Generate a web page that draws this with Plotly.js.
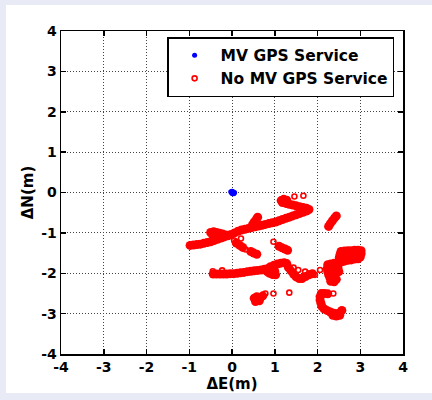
<!DOCTYPE html>
<html>
<head>
<meta charset="utf-8">
<script src="https://cdn.plot.ly/plotly-3.0.1.min.js"></script>
<style>
html,body{margin:0;padding:0;background:#e8eaf5;width:432px;height:400px;overflow:hidden}
#panel{position:absolute;left:6px;top:5px;width:426px;height:388px;background:#fff}
#chart{position:absolute;left:0;top:0;width:432px;height:400px}
</style>
</head>
<body>
<div id="panel"></div>
<div id="chart"></div>
<script>
// MV GPS Service fixes (metres)
const blueE = [-0.03, 0.00, 0.03, 0.06, -0.01, 0.02, 0.05, 0.01, 0.04];
const blueN = [0.02, 0.03, 0.02, 0.00, -0.01, 0.00, -0.02, -0.03, -0.03];

// No MV GPS Service: dense trail fixes (metres)
const trailE = [
 -0.98,-0.90,-0.82,-0.74,-0.66,-0.58,-0.50,-0.42,-0.34,-0.26,-0.18,-0.10,-0.02,0.06,0.14,0.22,0.30,0.38,0.46,0.54,0.62,0.70,0.78,0.86,0.94,1.02,1.10,1.18,1.26,1.34,1.42,1.50,1.58,1.66,1.74,1.80,
 1.74,1.66,1.58,1.50,1.42,1.34,1.26,1.18,1.15,1.21,1.28,
 -0.50,-0.43,-0.36,-0.29,-0.22,-0.15,-0.08,-0.45,
 0.10,0.18,0.25,0.44,0.51,0.58,
 0.48,0.52,0.57,0.60,
 2.26,2.30,2.35,2.40,2.44,
 1.10,1.17,1.24,1.30,
 -0.44,-0.36,-0.28,-0.20,-0.12,-0.04,0.04,0.12,0.20,0.28,0.36,0.44,0.52,0.60,0.68,0.76,0.84,
 0.90,0.98,1.06,1.14,1.22,1.28,0.82,0.88,0.95,1.02,1.00,
 1.32,1.38,1.44,1.50,1.57,1.64,1.72,1.80,1.88,
 2.55,2.63,2.71,2.79,2.87,2.95,3.02,2.62,2.72,2.82,2.92,3.02,3.00,
 2.95,2.87,2.79,2.71,2.63,2.55,2.47,2.39,2.31,2.24,2.53,2.51,
 2.32,2.40,2.48,2.34,2.42,2.50,2.23,2.24,2.26,2.29,2.37,2.44,2.31,2.39,
 2.09,2.16,2.24,2.06,2.06,2.08,2.10,2.15,2.22,2.30,2.38,2.46,2.53,2.57,2.36,2.44,2.52,
 0.56,0.61,0.67,0.72,0.52,0.58,0.64,0.55
];
const trailN = [
 -1.31,-1.30,-1.29,-1.28,-1.26,-1.24,-1.22,-1.19,-1.16,-1.13,-1.10,-1.07,-1.04,-1.00,-0.96,-0.93,-0.91,-0.89,-0.87,-0.85,-0.83,-0.81,-0.79,-0.77,-0.75,-0.73,-0.70,-0.67,-0.64,-0.61,-0.58,-0.55,-0.52,-0.49,-0.46,-0.42,
 -0.39,-0.37,-0.35,-0.33,-0.31,-0.29,-0.27,-0.25,-0.20,-0.17,-0.19,
 -0.99,-0.97,-0.99,-1.01,-1.03,-1.05,-1.06,-1.05,
 -1.25,-1.31,-1.36,-1.46,-1.50,-1.53,
 -0.80,-0.73,-0.66,-0.61,
 -0.84,-0.77,-0.70,-0.63,-0.58,
 -1.33,-1.37,-1.40,-1.43,
 -2.02,-2.02,-2.02,-2.02,-2.02,-2.01,-2.01,-2.00,-1.99,-1.98,-1.96,-1.95,-1.94,-1.93,-1.92,-1.90,-1.88,
 -1.84,-1.80,-1.77,-1.75,-1.74,-1.76,-1.96,-2.00,-2.03,-2.04,-1.95,
 -1.86,-1.94,-2.02,-2.09,-2.13,-2.13,-2.08,-2.04,-2.01,
 -1.46,-1.45,-1.44,-1.44,-1.43,-1.43,-1.44,-1.52,-1.51,-1.50,-1.50,-1.52,-1.60,
 -1.64,-1.65,-1.67,-1.68,-1.70,-1.72,-1.74,-1.75,-1.77,-1.79,-1.53,-1.61,
 -1.85,-1.85,-1.87,-1.93,-1.94,-1.96,-1.88,-1.96,-2.04,-2.11,-2.13,-2.15,-2.20,-2.21,
 -2.50,-2.50,-2.51,-2.58,-2.66,-2.74,-2.82,-2.88,-2.92,-2.96,-2.99,-3.00,-2.97,-2.92,-3.04,-3.06,-3.04,
 -2.66,-2.63,-2.60,-2.56,-2.62,-2.58,-2.68,-2.70
];

// No MV GPS Service: isolated fixes (metres)
const sparseE = [1.46,1.67,0.97,0.21,0.05,0.32,-0.45,-0.23,0.78,0.97,1.34,1.44,1.55,1.71,1.83,1.94,2.06,2.37];
const sparseN = [-0.10,-0.08,-1.22,-1.14,-1.19,-1.41,-1.95,-1.93,-2.50,-2.50,-2.48,-1.86,-1.92,-1.96,-2.00,-2.04,-1.92,-2.50];

const tickVals = [-4,-3,-2,-1,0,1,2,3,4];
const tickText = ['-4','-3','-2','-1','0','1','2','3','4'];

const traces = [
  {x: blueE, y: blueN, type:'scatter', mode:'markers', name:'MV GPS Service',
   marker:{color:'#0000ff', size:5, symbol:'circle'}},
  {x: sparseE, y: sparseN, type:'scatter', mode:'markers', name:'No MV GPS Service',
   legendgroup:'no', marker:{color:'#ff0000', size:5, symbol:'circle-open', line:{color:'#ff0000', width:1.6}}},
  {x: trailE, y: trailN, type:'scatter', mode:'markers', name:'No MV GPS Service',
   legendgroup:'no', showlegend:false, marker:{color:'#ff0000', size:9, symbol:'circle'}}
];

function axis(title){
  return {
    range:[-4,4], tickmode:'array', tickvals:tickVals, ticktext:tickText,
    showgrid:true, gridcolor:'#444', griddash:'1px,2px', gridwidth:1,
    zeroline:false, showline:true, linecolor:'#000', linewidth:1.5, mirror:'allticks',
    ticks:'inside', ticklen:5, tickwidth:1.5, tickcolor:'#000',
    tickfont:{family:'DejaVu Sans', size:14, weight:'bold', color:'#000'},
    title:{text:title, font:{family:'DejaVu Sans', size:15, weight:'bold', color:'#000'}, standoff:4},
    automargin:false, fixedrange:true
  };
}

const layout = {
  width:432, height:400,
  margin:{l:61, r:29, t:31, b:46, pad:0},
  paper_bgcolor:'rgba(0,0,0,0)', plot_bgcolor:'#ffffff',
  font:{family:'DejaVu Sans', color:'#000'},
  xaxis: axis('ΔE(m)'),
  yaxis: axis('ΔN(m)'),
  showlegend:true,
  legend:{x:0.974, y:0.981, xanchor:'right', yanchor:'top', bgcolor:'#ffffff',
          bordercolor:'#000', borderwidth:1.5, itemwidth:42, tracegroupgap:0,
          font:{family:'DejaVu Sans', size:15.5, weight:'bold', color:'#000'}}
};

Plotly.newPlot('chart', traces, layout, {staticPlot:true, displayModeBar:false});
</script>
</body>
</html>
